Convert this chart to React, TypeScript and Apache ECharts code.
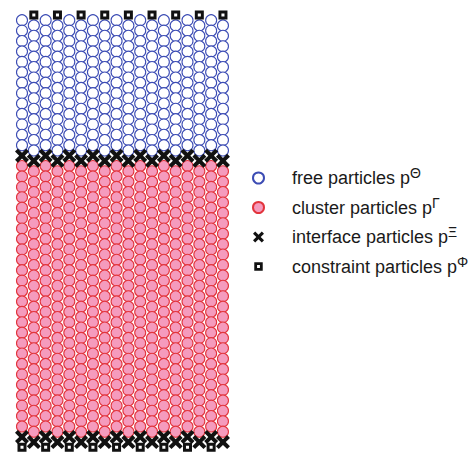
import React, { useEffect, useRef } from 'react';
import * as echarts from 'echarts';

// lattice columns (index of each particle column, left to right)
const columnIndex = [0, 1, 2, 3, 4, 5, 6, 7, 8, 9, 10, 11, 12, 13, 14, 15, 16, 17];

// particle kinds stacked from top to bottom in each column
// (even columns are shifted down by half a row)
const evenColumnPattern = [
  { type: 'free', count: 13 },
  { type: 'interface', count: 1 },
  { type: 'cluster', count: 26 },
  { type: 'interface', count: 1 },
  { type: 'constraint', count: 1 },
];
const oddColumnPattern = [
  { type: 'constraint', count: 1 },
  { type: 'free', count: 13 },
  { type: 'interface', count: 1 },
  { type: 'cluster', count: 26 },
  { type: 'interface', count: 1 },
];

const seriesKeys = ['free', 'cluster', 'interface', 'constraint'];
const legendLabels = ['free particles p', 'cluster particles p', 'interface particles p', 'constraint particles p'];
const legendSuperscripts = ['Θ', 'Γ', 'Ξ', 'Φ'];

const X_PATH = 'path://M0,2L2,0L5,3L8,0L10,2L7,5L10,8L8,10L5,7L2,10L0,8L3,5Z';
const SQUARE_PATH = 'path://M0,0H10V10H0Z M3.3,6.7H6.7V3.3H3.3Z';
const SQUARE_LEGEND = 'path://M-1.5,-1.5M11.5,11.5M0,0H10V10H0Z M3.3,6.7H6.7V3.3H3.3Z';

function buildPoints() {
  const pts: Record<string, number[][]> = { free: [], cluster: [], interface: [], constraint: [] };
  for (const c of columnIndex) {
    const even = c % 2 === 0;
    const pattern = even ? evenColumnPattern : oddColumnPattern;
    let y = even ? 0.5 : 0;
    for (const seg of pattern) {
      for (let i = 0; i < seg.count; i++) {
        pts[seg.type].push([c, y]);
        y += 1;
      }
    }
  }
  return pts;
}

export default function App() {
  const ref = useRef<HTMLDivElement>(null);
  useEffect(() => {
    if (!ref.current) return;
    const chart = echarts.init(ref.current, null, { renderer: 'svg' });
    const pts = buildPoints();
    const supOf: Record<string, string> = {};
    legendLabels.forEach((l, i) => (supOf[l] = legendSuperscripts[i]));

    const styles: Record<string, any> = {
      free: { symbol: 'circle', symbolSize: 11, itemStyle: { color: '#ffffff', borderColor: '#3c4cb4', borderWidth: 1.1, opacity: 1 } },
      cluster: { symbol: 'circle', symbolSize: 11, itemStyle: { color: '#f59bbd', borderColor: '#e2343c', borderWidth: 1.1, opacity: 1 } },
      interface: { symbol: X_PATH, symbolSize: 14, itemStyle: { color: '#111111', opacity: 1 } },
      constraint: { symbol: SQUARE_PATH, symbolSize: 9, itemStyle: { color: '#111111', opacity: 1 } },
    };

    chart.setOption({
      animation: false,
      grid: { left: 10.18, top: 4.6, width: 224.6, height: 447.9, containLabel: false },
      xAxis: { type: 'value', min: -1, max: 18, show: false, splitLine: { show: false } },
      yAxis: { type: 'value', min: -1, max: 42, inverse: true, show: false, splitLine: { show: false } },
      legend: {
        orient: 'vertical',
        left: 247,
        top: 161,
        itemWidth: 57,
        itemHeight: 11,
        itemGap: 8.5,
        selectedMode: false,
        data: seriesKeys.map((k, i) => ({
          name: legendLabels[i],
          ...(k === 'constraint' ? { icon: SQUARE_LEGEND } : {}),
        })),
        formatter: (name: string) => `{m|${name}}{s|${supOf[name]}}`,
        textStyle: {
          color: '#1a1a1a',
          fontFamily: 'Liberation Sans',
          rich: {
            m: { fontSize: 18, lineHeight: 24, fontFamily: 'Liberation Sans', color: '#1a1a1a' },
            s: { fontSize: 14, lineHeight: 18, verticalAlign: 'top', fontFamily: 'Liberation Sans', color: '#1a1a1a' },
          },
        },
      },
      series: seriesKeys.map((k, i) => ({
        type: 'scatter',
        name: legendLabels[i],
        data: pts[k],
        z: 2 + i,
        ...styles[k],
      })),
    });
    return () => chart.dispose();
  }, []);
  return <div ref={ref} style={{ position: 'absolute', left: 0, top: 0, width: 470, height: 457 }} />;
}
